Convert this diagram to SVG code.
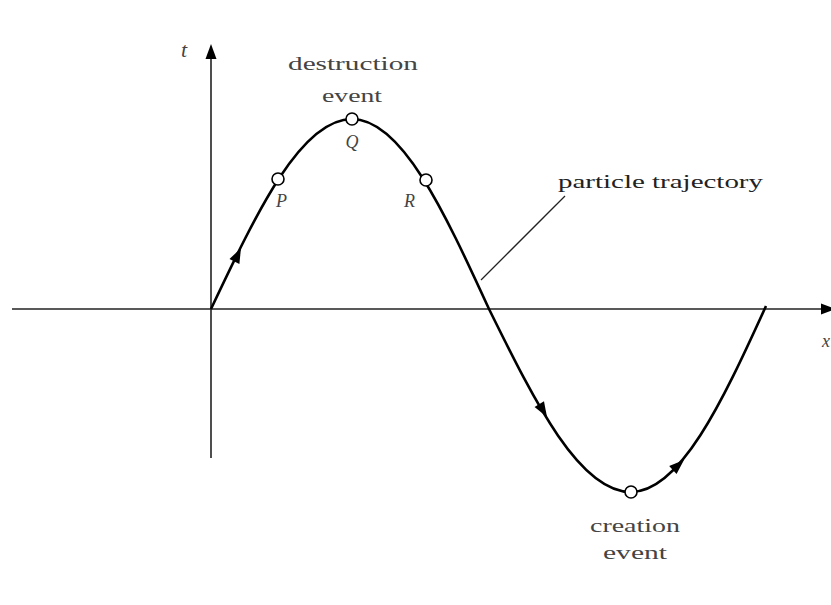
<svg xmlns="http://www.w3.org/2000/svg" width="831" height="605" viewBox="0 0 831 605">
<style>
.axis{stroke:#222;stroke-width:1.6;fill:none}
.curve{stroke:#000;stroke-width:2.6;fill:none}
.lead{stroke:#222;stroke-width:1.3;fill:none}
.ev{fill:#fff;stroke:#000;stroke-width:1.6}
.lbl{font-family:"Liberation Serif","DejaVu Serif",serif;font-size:19px;fill:#444}
.it{font-family:"Liberation Serif","DejaVu Serif",serif;font-style:italic;font-size:18px;fill:#444}
</style>
<defs>
<path id="ah" d="M0,0 L-15,-5.5 L-15,5.5 Z" fill="#000"/>
</defs>
<rect width="831" height="605" fill="#fff"/>
<g id="axes">
<line class="axis" x1="12" y1="309" x2="822" y2="309"/>
<line class="axis" x1="211" y1="458" x2="211" y2="58"/>
<use href="#ah" transform="translate(211,44) rotate(-90)"/>
<use href="#ah" transform="translate(836,309)"/>
<text class="it" x="181" y="57" style="font-size:22px">t</text>
<text class="it" x="822" y="347">x</text>
</g>
<g id="connectors">
<path id="trajectory" class="curve" d="M211,309 C257,211.7 301,119 352,119 C401.6,119 444.3,211.7 489,309 C535.3,402.8 579.6,492 631,492 C679.9,492 722,402.8 766,306"/>
<use href="#ah" transform="translate(241,248) rotate(-64)"/>
<use href="#ah" transform="translate(547,417) rotate(59)"/>
<use href="#ah" transform="translate(684,460) rotate(-42)"/>
<line class="lead" x1="481" y1="280" x2="565" y2="196"/>
</g>
<g id="P"><circle class="ev" cx="278" cy="179" r="6"/><text class="it" x="276" y="207">P</text></g>
<g id="Q"><circle class="ev" cx="352" cy="119" r="6"/><text class="it" x="352" y="148" text-anchor="middle">Q</text></g>
<g id="R"><circle class="ev" cx="426" cy="180" r="6"/><text class="it" x="404" y="207">R</text></g>
<g id="destruction-event">
<text class="lbl" x="353" y="70" text-anchor="middle" textLength="130" lengthAdjust="spacingAndGlyphs">destruction</text>
<text class="lbl" x="352" y="102" text-anchor="middle" textLength="60" lengthAdjust="spacingAndGlyphs">event</text>
</g>
<g id="creation-event">
<circle class="ev" cx="631" cy="492" r="6"/>
<text class="lbl" x="635" y="532" text-anchor="middle" textLength="90" lengthAdjust="spacingAndGlyphs">creation</text>
<text class="lbl" x="635" y="559" text-anchor="middle" textLength="64" lengthAdjust="spacingAndGlyphs">event</text>
</g>
<g id="particle-trajectory-label">
<text class="lbl" x="558" y="188" style="fill:#222" textLength="205" lengthAdjust="spacingAndGlyphs">particle trajectory</text>
</g>
</svg>
